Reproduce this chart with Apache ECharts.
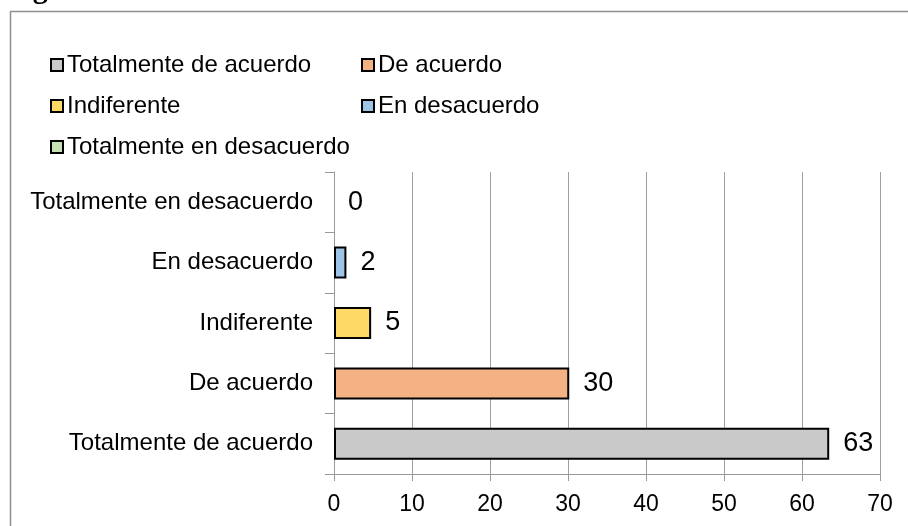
<!DOCTYPE html>
<html>
<head>
<meta charset="utf-8">
<script src="https://cdn.jsdelivr.net/npm/echarts@6/dist/echarts.min.js"></script>
<style>
html,body{margin:0;padding:0;background:#fff;}
#chart{width:908px;height:526px;}
</style>
</head>
<body>
<div id="chart"></div>
<script>
// Categories listed bottom to top (category axis order)
const categories = ['Totalmente de acuerdo', 'De acuerdo', 'Indiferente', 'En desacuerdo', 'Totalmente en desacuerdo'];
// Percentages (labels show rounded values)
const values = [63.49, 30.16, 4.76, 1.59, 0];
const colors = ['#c9c9c9', '#f4b183', '#ffd966', '#9dc3e6', '#c5e0b4'];
const legendCol1 = ['Totalmente de acuerdo', 'Indiferente', 'Totalmente en desacuerdo'];
const legendCol2 = ['De acuerdo', 'En desacuerdo'];
const xMin = 0, xMax = 70, xStep = 10;

const FONT = '"Liberation Sans", Arial, sans-serif';
const chart = echarts.init(document.getElementById('chart'), null, {renderer: 'canvas'});

const series = categories.map((name, i) => ({
  name: name,
  type: 'bar',
  stack: 'all',
  barWidth: 32,
  itemStyle: {color: colors[i], borderColor: '#000', borderWidth: 2},
  label: {
    show: true, position: 'right', distance: 14,
    formatter: p => Math.round(p.value),
    fontSize: 27, color: '#000', fontFamily: FONT
  },
  data: categories.map((c, j) => j === i
    ? {value: values[i], itemStyle: values[i] === 0 ? {borderWidth: 0} : undefined}
    : '-')
}));

const legendCommon = {
  orient: 'vertical',
  icon: 'rect',
  itemWidth: 12,
  itemHeight: 12,
  itemGap: 13,
  padding: 0,
  selectedMode: false,
  textStyle: {fontSize: 24, lineHeight: 28, color: '#000', fontFamily: FONT, padding: [0, 0, 0, -1]}
};

chart.setOption({
  animation: false,
  backgroundColor: '#fff',
  color: colors,
  graphic: [
    {type: 'rect', z: -10, shape: {x: 10.5, y: 11.5, width: 1000, height: 1000},
     style: {fill: 'none', stroke: '#8f8f8f', lineWidth: 1.5}},
    {type: 'text', x: 6, y: 5, style: {text: 'Figura', font: 'bold 30px "Liberation Serif", serif', fill: '#000', verticalAlign: 'bottom'}}
  ],
  legend: [
    Object.assign({}, legendCommon, {left: 50, top: 51, data: legendCol1}),
    Object.assign({}, legendCommon, {left: 361, top: 51, data: legendCol2})
  ],
  grid: {left: 334, right: 28, top: 172, bottom: 52, containLabel: false},
  xAxis: {
    type: 'value', min: xMin, max: xMax, interval: xStep,
    axisLine: {show: true, lineStyle: {color: '#999', width: 1}},
    axisTick: {show: true, length: 7, lineStyle: {color: '#999'}},
    splitLine: {show: true, lineStyle: {color: '#a0a0a0', width: 1}},
    axisLabel: {fontSize: 23, color: '#000', fontFamily: FONT, margin: 19}
  },
  yAxis: {
    type: 'category', data: categories,
    axisLine: {show: true, lineStyle: {color: '#999', width: 1}},
    axisTick: {show: true, length: 9, lineStyle: {color: '#999'}},
    axisLabel: {fontSize: 24, color: '#000', fontFamily: FONT, margin: 21}
  },
  series: series
});
</script>
</body>
</html>
